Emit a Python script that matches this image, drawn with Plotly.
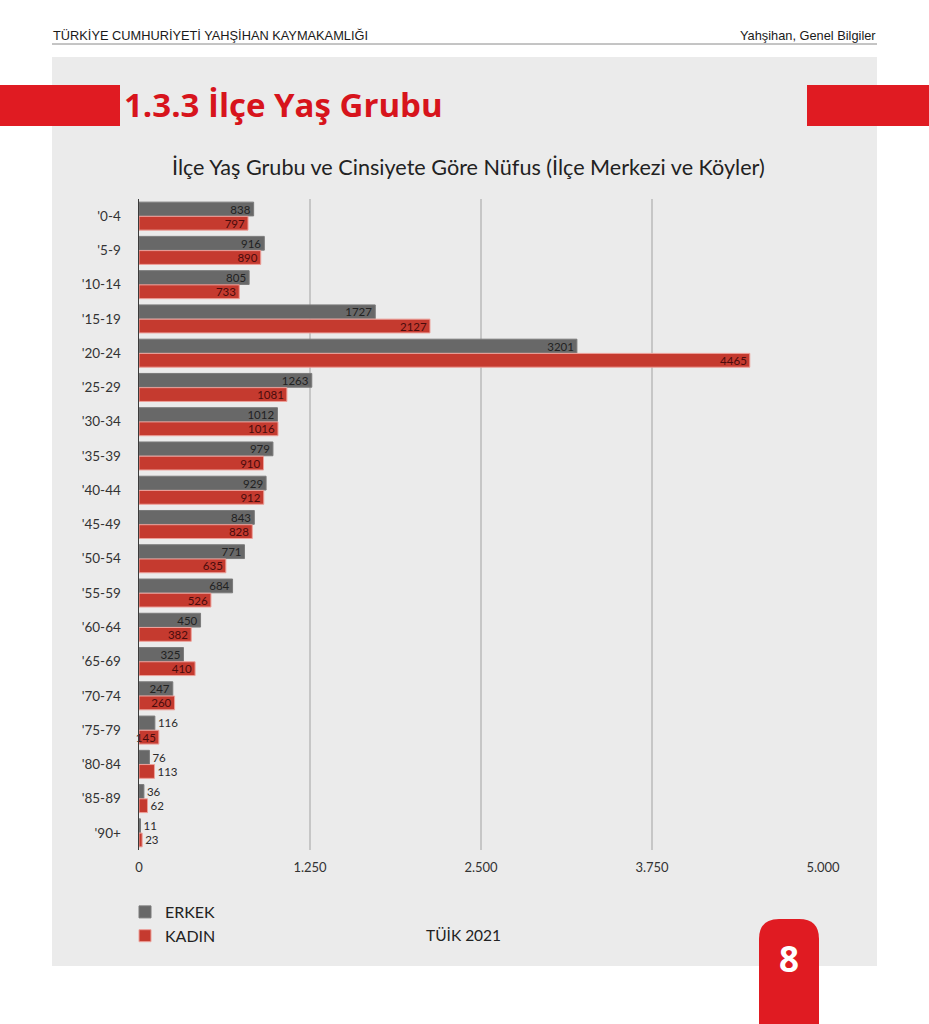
import plotly.graph_objects as go

W, H = 929, 1024

categories = ["'0-4", "'5-9", "'10-14", "'15-19", "'20-24", "'25-29", "'30-34", "'35-39",
              "'40-44", "'45-49", "'50-54", "'55-59", "'60-64", "'65-69", "'70-74",
              "'75-79", "'80-84", "'85-89", "'90+"]
erkek = [838, 916, 805, 1727, 3201, 1263, 1012, 979, 929, 843, 771, 684, 450, 325, 247, 116, 76, 36, 11]
kadin = [797, 890, 733, 2127, 4465, 1081, 1016, 910, 912, 828, 635, 526, 382, 410, 260, 145, 113, 62, 23]
tick_vals = [0, 1250, 2500, 3750, 5000]
tick_text = ["0", "1.250", "2.500", "3.750", "5.000"]

GRAY = "#686868"
RED = "#c53a2f"
PAGE_RED = "#e01b22"
PANEL = "#ebebeb"
FONT = "Lato"


def px(x):
    return x / W


def py(y):
    return 1 - y / H


fig = go.Figure()
fig.add_trace(go.Bar(
    y=categories, x=erkek, name="ERKEK", orientation="h",
    marker=dict(color=GRAY, line=dict(color="#7a7a7a", width=1)),
    text=[str(v) for v in erkek], textposition="auto", insidetextanchor="end",
    insidetextfont=dict(family=FONT, size=11.5, color="#222222"),
    outsidetextfont=dict(family=FONT, size=11.5, color="#2a2a2a"),
    constraintext="none", cliponaxis=False,
))
fig.add_trace(go.Bar(
    y=categories, x=kadin, name="KADIN", orientation="h",
    marker=dict(color=RED, line=dict(color="#eda09a", width=1)),
    text=[str(v) for v in kadin], textposition="auto", insidetextanchor="end",
    insidetextfont=dict(family=FONT, size=11.5, color="#4a0c0c"),
    outsidetextfont=dict(family=FONT, size=11.5, color="#2a2a2a"),
    constraintext="none", cliponaxis=False,
))

shapes = [
    dict(type="rect", xref="paper", yref="paper", x0=px(52), x1=px(877), y0=py(966), y1=py(57),
         fillcolor=PANEL, line=dict(width=0), layer="below"),
    dict(type="line", xref="paper", yref="paper", x0=px(52), x1=px(877), y0=py(44), y1=py(44),
         line=dict(color="#8a8a8a", width=1)),
    dict(type="rect", xref="paper", yref="paper", x0=px(0), x1=px(120), y0=py(126), y1=py(85),
         fillcolor=PAGE_RED, line=dict(width=0), layer="below"),
    dict(type="rect", xref="paper", yref="paper", x0=px(807), x1=px(929), y0=py(126), y1=py(85),
         fillcolor=PAGE_RED, line=dict(width=0), layer="below"),
]
x0, x1, yt, yb, r = 759, 819, 919, 1024, 20
path = (f"M {px(x0)},{py(yb)} L {px(x0)},{py(yt + r)} "
        f"Q {px(x0)},{py(yt)} {px(x0 + r)},{py(yt)} "
        f"L {px(x1 - r)},{py(yt)} Q {px(x1)},{py(yt)} {px(x1)},{py(yt + r)} "
        f"L {px(x1)},{py(yb)} Z")
shapes.append(dict(type="path", xref="paper", yref="paper", path=path,
                   fillcolor=PAGE_RED, line=dict(width=0)))

annotations = [
    dict(text="TÜRKİYE CUMHURİYETİ YAHŞİHAN KAYMAKAMLIĞI", x=px(51), y=py(35), xanchor="left",
         yanchor="middle", font=dict(family="Liberation Sans", size=12.8, color="#1a1a1a")),
    dict(text="Yahşihan, Genel Bilgiler", x=px(878), y=py(35), xanchor="right",
         yanchor="middle", font=dict(family="Liberation Sans", size=12.8, color="#1a1a1a")),
    dict(text="<b>1.3.3 İlçe Yaş Grubu</b>", x=px(122), y=py(104), xanchor="left",
         yanchor="middle", font=dict(family="Open Sans", size=33, color="#d7141c")),
    dict(text="İlçe Yaş Grubu ve Cinsiyete Göre Nüfus (İlçe Merkezi ve Köyler)", x=px(468),
         y=py(167), xanchor="center", yanchor="middle",
         font=dict(family=FONT, size=21.6, color="#222222")),
    dict(text="TÜİK 2021", x=px(463), y=py(935), xanchor="center", yanchor="middle",
         font=dict(family=FONT, size=15.5, color="#222222")),
    dict(text="<b>8</b>", x=px(789), y=py(958), xanchor="center", yanchor="middle",
         font=dict(family="Open Sans", size=35, color="white")),
]
for a in annotations:
    a.update(xref="paper", yref="paper", showarrow=False)

fig.update_layout(
    width=W, height=H, autosize=False,
    margin=dict(l=0, r=0, t=0, b=0, pad=0, autoexpand=False),
    paper_bgcolor="white", plot_bgcolor="rgba(0,0,0,0)",
    barmode="group", bargap=0.17, bargroupgap=0.03,
    font=dict(family=FONT, size=13, color="#333333"),
    shapes=shapes, annotations=annotations,
    showlegend=True,
    legend=dict(x=px(125), y=py(895), xanchor="left", yanchor="top",
                bgcolor="rgba(0,0,0,0)", font=dict(family=FONT, size=16, color="#222222"),
                traceorder="normal", itemwidth=30, tracegroupgap=0),
    xaxis=dict(domain=[px(139), px(823)], range=[0, 5000], tickvals=tick_vals, ticktext=tick_text,
               showgrid=True, gridcolor="#c6c6c6", gridwidth=1.2, zeroline=False,
               showline=False, ticks="", tickfont=dict(family=FONT, size=13, color="#333333"),
               ticklabelstandoff=8, fixedrange=True, automargin=False),
    yaxis=dict(domain=[py(850), py(199)], autorange="reversed", showgrid=False,
               showline=True, linecolor="#3a3a3a", linewidth=1.5, ticks="",
               tickfont=dict(family=FONT, size=13.5, color="#333333"), ticklabelstandoff=14,
               fixedrange=True, automargin=False),
)

fig.write_html("out.html",
               config={"responsive": False, "displayModeBar": False, "staticPlot": True},
               post_script="document.body.style.margin='0';document.body.style.overflow='hidden';")
